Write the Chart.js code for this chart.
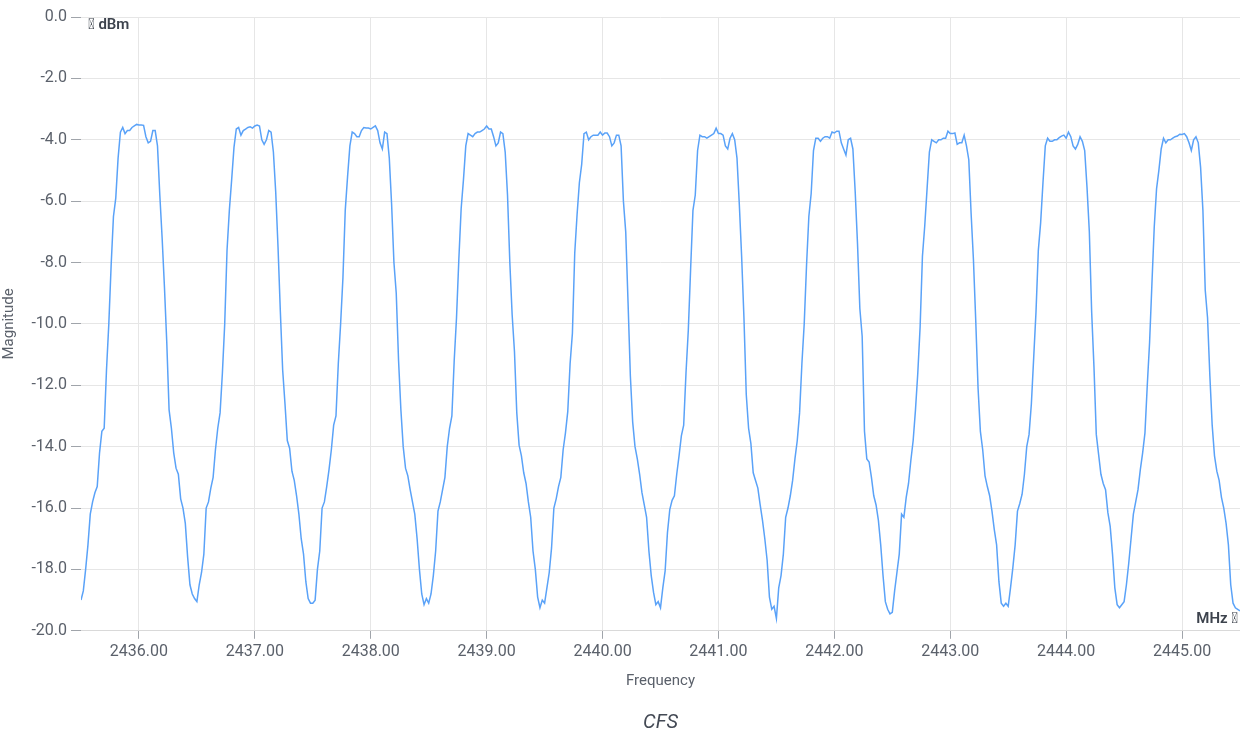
<!DOCTYPE html>
<html lang="en">
<head>
    <meta charset="UTF-8">
    <title>CFS</title>
    <script src="https://cdn.jsdelivr.net/npm/chart.js@4.4.1/dist/chart.umd.min.js"></script>
    <style>
        body { margin: 0; background: #fff; }
        #wrap { width: 1240px; height: 735px; }
    </style>
    <script>
        // sweep: 2435.5 .. 2445.5 MHz, one reading every 0.02 MHz
        var startMHz = 2435.5;
        var stepMHz = 0.02;

        // magnitude (dBm), one array per channel
        var ch2436 = [-19.0,-18.7,-18.0,-17.2,-16.2,-15.8,-15.5,-15.3,-14.2,-13.5,-13.4,-11.5,-10.0,-8.1,-6.5,-5.9,-4.6,-3.75,-3.6,-3.8,-3.7,-3.7,-3.6,-3.55,-3.5,-3.52,-3.52,-3.53,-3.9,-4.1,-4.05,-3.7,-3.7,-4.2,-5.8,-7.2,-8.8,-10.6,-12.8,-13.4,-14.2,-14.7,-14.9,-15.7,-16.0,-16.5,-17.6,-18.5,-18.8,-18.95];
        var ch2437 = [-19.05,-18.5,-18.1,-17.5,-16.0,-15.8,-15.35,-15.0,-14.1,-13.4,-12.9,-11.6,-10.0,-7.6,-6.3,-5.3,-4.25,-3.65,-3.6,-3.85,-3.7,-3.65,-3.6,-3.58,-3.62,-3.55,-3.52,-3.55,-4.0,-4.15,-4.0,-3.7,-3.75,-4.4,-5.7,-7.5,-9.6,-11.5,-12.6,-13.8,-14.05,-14.8,-15.1,-15.6,-16.2,-17.0,-17.5,-18.4,-18.95,-19.1];
        var ch2438 = [-19.1,-19.0,-18.0,-17.4,-16.0,-15.8,-15.3,-14.75,-14.1,-13.3,-13.0,-11.3,-10.0,-8.5,-6.3,-5.2,-4.2,-3.75,-3.8,-3.9,-3.9,-3.7,-3.6,-3.62,-3.62,-3.65,-3.6,-3.55,-3.7,-4.1,-4.3,-3.75,-3.8,-4.6,-6.1,-8.0,-9.0,-11.2,-12.8,-14.0,-14.7,-14.95,-15.4,-15.8,-16.2,-17.0,-18.0,-18.8,-19.15,-18.95];
        var ch2439 = [-19.1,-18.8,-18.2,-17.4,-16.1,-15.8,-15.4,-15.0,-14.0,-13.4,-13.0,-11.2,-9.8,-7.9,-6.25,-5.3,-4.2,-3.8,-3.85,-3.9,-3.8,-3.75,-3.75,-3.7,-3.65,-3.55,-3.65,-3.65,-3.9,-4.2,-4.1,-3.75,-3.8,-4.4,-5.8,-8.0,-9.7,-10.9,-12.9,-13.95,-14.3,-14.85,-15.2,-15.8,-16.3,-17.4,-18.0,-18.9,-19.25,-19.0];
        var ch2440 = [-19.1,-18.6,-18.1,-17.3,-16.0,-15.7,-15.3,-15.0,-14.1,-13.55,-12.85,-11.3,-10.3,-7.7,-6.45,-5.4,-4.8,-3.8,-3.75,-4.0,-3.9,-3.85,-3.85,-3.85,-3.75,-3.85,-3.78,-3.78,-3.9,-4.2,-4.1,-3.85,-3.85,-4.2,-6.0,-7.0,-9.3,-11.7,-13.2,-14.0,-14.4,-14.9,-15.5,-15.9,-16.3,-17.4,-18.2,-18.75,-19.15,-19.05];
        var ch2441 = [-19.25,-18.6,-18.05,-16.8,-16.05,-15.75,-15.6,-14.9,-14.3,-13.65,-13.3,-11.6,-10.2,-8.2,-6.3,-5.8,-4.35,-3.85,-3.9,-3.9,-3.95,-3.9,-3.85,-3.8,-3.62,-3.8,-3.8,-3.85,-4.2,-4.3,-3.95,-3.8,-4.0,-4.6,-6.1,-7.8,-9.8,-12.3,-13.4,-13.9,-14.85,-15.1,-15.35,-15.9,-16.4,-17.0,-17.7,-18.9,-19.3,-19.2];
        var ch2442 = [-19.6,-18.6,-18.2,-17.5,-16.3,-16.0,-15.6,-15.1,-14.4,-13.8,-12.9,-11.3,-10.0,-8.1,-6.5,-5.75,-4.35,-3.95,-3.95,-4.05,-3.95,-3.9,-3.9,-3.95,-3.75,-3.78,-3.72,-3.72,-4.1,-4.3,-4.5,-4.0,-3.95,-4.3,-5.7,-7.4,-9.5,-10.4,-13.5,-14.4,-14.5,-15.0,-15.6,-15.9,-16.4,-17.2,-18.2,-19.05,-19.3,-19.45];
        var ch2443 = [-19.4,-18.7,-18.1,-17.5,-16.2,-16.3,-15.65,-15.2,-14.45,-13.8,-12.8,-11.6,-10.1,-7.8,-6.8,-5.6,-4.4,-4.0,-4.05,-4.1,-4.0,-4.0,-3.95,-3.95,-3.72,-3.8,-3.8,-3.78,-4.15,-4.1,-4.1,-3.85,-4.2,-4.65,-6.4,-7.9,-9.9,-12.1,-13.5,-14.1,-14.95,-15.3,-15.6,-16.1,-16.7,-17.2,-18.4,-19.1,-19.2,-19.1];
        var ch2444 = [-19.2,-18.6,-17.95,-17.2,-16.1,-15.85,-15.55,-14.9,-14.0,-13.6,-12.6,-11.1,-9.6,-7.6,-6.7,-5.4,-4.2,-3.95,-4.05,-4.05,-4.0,-4.0,-3.93,-3.88,-3.85,-3.95,-3.75,-3.9,-4.2,-4.3,-4.15,-3.9,-4.05,-4.35,-5.55,-7.0,-9.6,-11.4,-13.6,-14.25,-14.9,-15.2,-15.4,-16.15,-16.6,-17.5,-18.6,-19.15,-19.25,-19.15];
        var ch2445 = [-19.05,-18.5,-17.8,-17.0,-16.2,-15.8,-15.4,-14.75,-14.2,-13.55,-12.0,-10.6,-8.7,-6.85,-5.6,-5.0,-4.3,-3.95,-4.1,-4.0,-4.0,-3.95,-3.9,-3.88,-3.82,-3.83,-3.8,-3.9,-4.1,-4.35,-4.0,-3.9,-4.1,-4.9,-6.3,-8.9,-9.8,-11.7,-13.3,-14.3,-14.8,-15.1,-15.65,-16.0,-16.5,-17.2,-18.5,-19.1,-19.25,-19.3];
        var sweepEnd = [-19.35];

        var xTickValues = [2436, 2437, 2438, 2439, 2440, 2441, 2442, 2443, 2444, 2445];
        var yTicks = { min: -20, max: 0, step: 2 };
        var xRange = { min: 2435.5, max: 2445.5 };
        var yUnit = '\uf176 dBm';
        var xUnit = 'MHz \uf178';

        var textColor = '#5b616b';

        // small unit captions inside the plot corners
        var unitLabels = {
            id: 'unitLabels',
            afterDraw: function (chart) {
                var ctx = chart.ctx;
                var a = chart.chartArea;
                ctx.save();
                ctx.font = '600 15px Roboto';
                ctx.fillStyle = '#3d434d';
                ctx.textBaseline = 'middle';
                ctx.textAlign = 'left';
                ctx.fillText(yUnit, a.left + 7, a.top + 8);
                ctx.textAlign = 'right';
                ctx.fillText(xUnit, a.right - 2, a.bottom - 12);
                ctx.restore();
            }
        };

        window.onload = function () {
            var mags = [].concat(ch2436, ch2437, ch2438, ch2439, ch2440,
                ch2441, ch2442, ch2443, ch2444, ch2445, sweepEnd);
            var points = [];
            for (var i = 0; i < mags.length; i++) {
                points.push({ x: +(startMHz + i * stepMHz).toFixed(2), y: mags[i] });
            }

            Chart.defaults.font.family = 'Roboto';
            Chart.defaults.color = textColor;

            var ctx = document.getElementById('cfsChart');
            new Chart(ctx, {
                type: 'line',
                data: {
                    datasets: [{
                        label: 'CFS',
                        data: points,
                        borderColor: '#5aa2f8',
                        borderWidth: 1.5,
                        pointRadius: 0,
                        tension: 0,
                        fill: false
                    }]
                },
                plugins: [unitLabels],
                options: {
                    animation: false,
                    responsive: true,
                    maintainAspectRatio: false,
                    devicePixelRatio: 1,
                    layout: { padding: { top: 17, right: 0, left: 0, bottom: 0 } },
                    plugins: {
                        legend: { display: false },
                        tooltip: { enabled: false },
                        title: {
                            display: true,
                            text: 'CFS',
                            position: 'bottom',
                            fullSize: false,
                            color: '#444a55',
                            font: { size: 20, style: 'italic', weight: 'normal' },
                            padding: { top: 17, bottom: 0 }
                        }
                    },
                    scales: {
                        x: {
                            type: 'linear',
                            min: xRange.min,
                            max: xRange.max,
                            border: { display: true, color: '#d9d9d9' },
                            grid: { color: '#e6e6e6', tickColor: '#a0a4aa', tickLength: 8 },
                            afterBuildTicks: function (scale) {
                                scale.ticks = xTickValues.map(function (v) { return { value: v }; });
                            },
                            ticks: {
                                font: { size: 16 },
                                padding: 4,
                                maxRotation: 0,
                                autoSkip: false,
                                callback: function (v) { return v.toFixed(2); }
                            },
                            title: {
                                display: true,
                                text: 'Frequency',
                                font: { size: 15 },
                                padding: { top: 6, bottom: 4 }
                            }
                        },
                        y: {
                            min: yTicks.min,
                            max: yTicks.max,
                            border: { display: false },
                            grid: { color: '#e6e6e6', tickColor: '#a0a4aa', tickLength: 10 },
                            ticks: {
                                stepSize: yTicks.step,
                                font: { size: 16 },
                                padding: 4,
                                callback: function (v) { return v.toFixed(1); }
                            },
                            title: {
                                display: true,
                                text: 'Magnitude',
                                font: { size: 15 },
                                padding: { top: 0, bottom: 4 }
                            },
                            afterFit: function (scale) { scale.width = 81; }
                        }
                    }
                }
            });
        };
    </script>
</head>
<body>
    <div id="wrap">
        <canvas id="cfsChart"></canvas>
    </div>
</body>
</html>
